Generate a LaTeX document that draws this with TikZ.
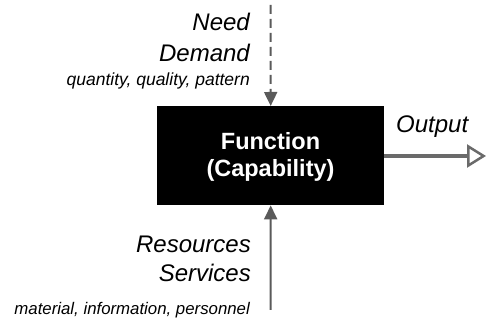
\documentclass[tikz,border=0pt]{standalone}
\usepackage{fontspec}
\setmainfont{Liberation Sans}
\usetikzlibrary{arrows.meta}
\definecolor{flowgray}{HTML}{5A5A5A}
\definecolor{outgray}{HTML}{6A6A6A}

\begin{document}
\begin{tikzpicture}[x=1pt,y=1pt,
  biglabel/.style={inner sep=0pt,font=\itshape\fontsize{24}{29}\selectfont},
  smalllabel/.style={inner sep=0pt,font=\itshape\fontsize{17.5}{21}\selectfont},
  title/.style={white,font=\bfseries\fontsize{23.5}{28}\selectfont,anchor=base},
  flow/.style={flowgray,line width=2pt,-{Triangle[length=14pt,width=13pt]}}]
  \useasboundingbox (0,0) rectangle (487,323);
  % the function block
  \node[fill=black,minimum width=227pt,minimum height=99pt,inner sep=0pt,anchor=north west] (func) at (157,217) {};
  \node[title] (fname) at (270.5,173) {Function};
  \node[title] (fcap) at (270.5,146) {(Capability)};
  % demand from above
  \coordinate (need) at (270.5,318);
  \draw[flow,dash pattern=on 9pt off 5pt] (need) -- (func.north);
  \node[biglabel,anchor=base east] (lneed) at (250,292) {Need};
  \node[biglabel,anchor=base east] (ldem) at (250,261) {Demand};
  \node[smalllabel,anchor=base east] (lqty) at (250,237) {quantity, quality, pattern};
  % resources from below
  \coordinate (res) at (270.5,13);
  \draw[flow] (res) -- (func.south);
  \node[biglabel,anchor=base east] (lres) at (251,70) {Resources};
  \node[biglabel,anchor=base east] (lserv) at (251,41) {Services};
  \node[smalllabel,font=\itshape\fontsize{16.8}{20}\selectfont,anchor=base east] (lmat) at (250,8) {material, information, personnel};
  % output to the right
  \coordinate (out) at (486,167);
  \draw[outgray,line width=4pt,-{Triangle[open,length=19pt,width=23pt,line width=2.5pt]}] (func.east |- out) -- (out);
  \node[biglabel,anchor=base west] (lout) at (396,190) {Output};
\end{tikzpicture}
\end{document}
